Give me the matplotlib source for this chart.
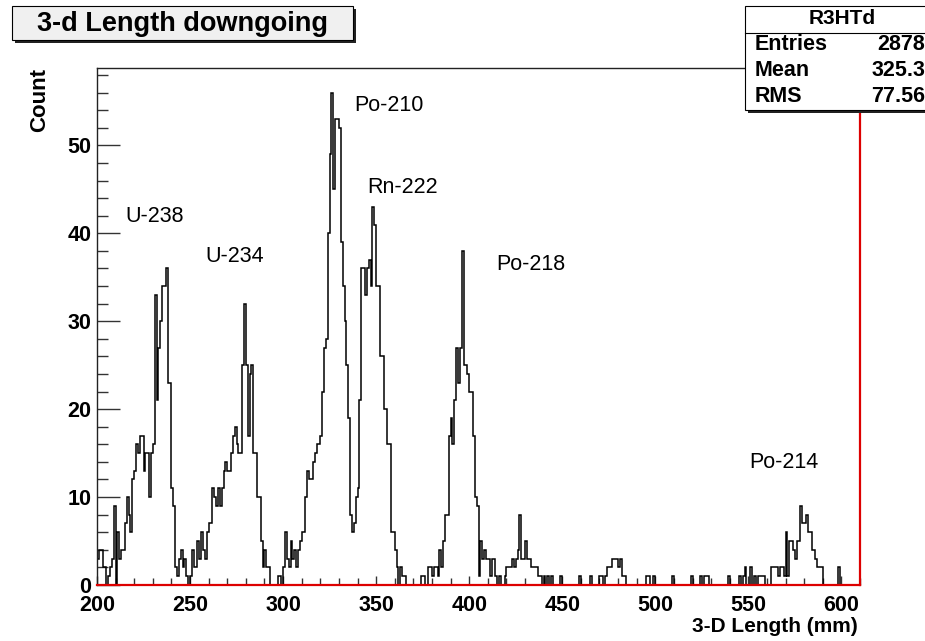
import numpy as np
import matplotlib
matplotlib.use("Agg")
import matplotlib.pyplot as plt
from matplotlib.patches import Rectangle
from matplotlib.ticker import MultipleLocator

# ---------------- data ----------------
x_min, x_max, bin_width = 200, 610, 1

counts_200 = [3, 4, 4, 2, 2, 0, 1, 2, 3, 9,
              0, 6, 3, 4, 4, 7, 10, 8, 6, 12,
              13, 16, 15, 17, 17, 13, 15, 15, 10, 15,
              16, 33, 21, 27, 30, 34, 34, 36, 23, 23,
              11, 9, 2, 1, 3, 4, 2, 3, 1, 0]
counts_250 = [1, 4, 2, 2, 5, 3, 6, 4, 3, 6,
              7, 7, 11, 10, 9, 11, 9, 11, 13, 14,
              13, 13, 15, 17, 18, 16, 15, 15, 25, 32,
              25, 17, 24, 25, 15, 15, 10, 10, 5, 2,
              4, 2, 2, 0, 0, 0, 0, 1, 1, 0]
counts_300 = [2, 6, 3, 2, 5, 3, 4, 2, 4, 5,
              6, 6, 10, 13, 12, 12, 14, 15, 16, 16,
              17, 22, 27, 28, 40, 49, 56, 45, 53, 53,
              52, 39, 34, 30, 25, 19, 8, 6, 7, 10,
              11, 21, 36, 36, 33, 36, 37, 34, 43, 41,
              34, 34, 26, 26, 20, 20, 16, 16, 6, 6,
              4, 2, 0, 2, 1, 1, 0, 0, 0, 0]
counts_370 = [0, 0, 0, 0, 1, 1, 0, 0, 2, 2,
              1, 2, 2, 1, 4, 2, 5, 8, 8, 17,
              19, 16, 21, 27, 23, 27, 38, 25, 25, 24,
              22, 22, 17, 10, 9, 1, 5, 3, 4, 3,
              3, 1, 3, 3, 1, 0, 1, 0, 0, 1,
              2, 2, 2, 3, 2, 3, 4, 8, 3, 3,
              5, 3, 3, 2, 2, 2, 2, 1, 1, 0]
counts_440 = [1, 0, 1, 0, 1, 0, 0, 0, 0, 1,
              0, 0, 0, 0, 0, 0, 0, 0, 0, 1,
              0, 0, 0, 0, 0, 1, 0, 0, 0, 0,
              1, 1, 0, 1, 2, 2, 2, 3, 3, 3,
              2, 3, 1, 1, 0, 0, 0, 0, 0, 0,
              0, 0, 0, 0, 0, 1, 1, 0, 0, 1,
              0, 0, 0, 0, 0, 0, 0, 0, 0, 1]
counts_510 = [0, 0, 0, 0, 0, 0, 0, 0, 0, 1,
              0, 0, 0, 0, 1, 0, 1, 1, 1, 0,
              0, 0, 0, 0, 0, 0, 0, 0, 0, 1,
              0, 0, 0, 0, 0, 1, 0, 1, 2, 0,
              0, 2, 0, 1, 0, 1, 1, 1, 1, 0,
              0, 0, 2, 2, 2, 2, 1, 2, 2, 1,
              6, 1, 5, 5, 4, 3, 5, 5, 9, 7,
              7, 8, 6, 6, 4, 4, 3, 2, 2, 2,
              0, 0, 0, 0, 0, 0, 0, 0, 2, 0,
              0, 0, 0, 0, 0, 0, 0, 0, 0, 0]

peak_labels = ["U-238", "U-234", "Po-210", "Rn-222", "Po-218", "Po-214"]
peak_label_x = [215.0, 258.0, 338.5, 345.0, 414.8, 550.6]
peak_label_y = [41.9, 37.4, 54.5, 45.2, 36.4, 13.9]

title = "3-d Length downgoing"
stats_name = "R3HTd"
stats_keys = ["Entries", "Mean", "RMS"]
stats_vals = ["2878", "325.3", "77.56"]
x_label = "3-D Length (mm)"
y_label = "Count"

counts = np.array(counts_200 + counts_250 + counts_300 + counts_370
                  + counts_440 + counts_510, dtype=float)
edges = np.arange(x_min, x_max + bin_width, bin_width)

# ---------------- figure ----------------
plt.rcParams['font.family'] = ['Liberation Sans', 'DejaVu Sans']
plt.rcParams['font.weight'] = 'bold'

W, H = 925, 641
fig = plt.figure(figsize=(W / 100, H / 100), dpi=100)
fig.patch.set_facecolor('white')

def fx(px):
    return px / W

def fy(py):
    return 1 - py / H

ax = fig.add_axes([fx(97), fy(585), (860 - 97) / W, (585 - 68) / H])
ax.stairs(counts, edges, color='black', lw=1.1, baseline=0, zorder=2)

ax.set_xlim(x_min, x_max)
ax.set_ylim(0, 58.8)

ax.xaxis.set_major_locator(MultipleLocator(50))
ax.xaxis.set_minor_locator(MultipleLocator(10))
ax.yaxis.set_major_locator(MultipleLocator(10))
ax.yaxis.set_minor_locator(MultipleLocator(2))

px2pt = 0.72
ax.tick_params(axis='y', which='major', direction='in', length=23 * px2pt,
               width=1.0, labelsize=15.5, pad=4, color='#333333')
ax.tick_params(axis='y', which='minor', direction='in', length=11.5 * px2pt,
               width=1.0, color='#333333')
ax.tick_params(axis='x', which='major', direction='in', length=9 * px2pt,
               width=1.0, labelsize=15.5, pad=7, color='#333333')
ax.tick_params(axis='x', which='minor', direction='in', length=7 * px2pt,
               width=1.0, color='#333333')

for side in ['left', 'top']:
    ax.spines[side].set_color('#222222')
    ax.spines[side].set_linewidth(1.0)
for side in ['bottom', 'right']:
    ax.spines[side].set_color('#dd0000')
    ax.spines[side].set_linewidth(1.6)
    ax.spines[side].set_zorder(5)

for lab, lx, ly in zip(peak_labels, peak_label_x, peak_label_y):
    ax.text(lx, ly, lab, fontsize=15.5, fontweight='normal', ha='left',
            va='center', color='black')

fig.text(fx(40), fy(68), y_label, rotation=90, ha='center', va='top',
         fontsize=16, fontweight='bold')
fig.text(fx(858), fy(627), x_label, ha='right', va='center',
         fontsize=15, fontweight='bold')

# title box
fig.add_artist(Rectangle((fx(15), fy(43)), (353 - 12) / W, 34 / H,
                         transform=fig.transFigure, facecolor='#222222',
                         edgecolor='none', zorder=3))
fig.add_artist(Rectangle((fx(12), fy(40)), (353 - 12) / W, 34 / H,
                         transform=fig.transFigure, facecolor='#f0f0f0',
                         edgecolor='black', lw=0.8, zorder=4))
fig.text(fx(37), fy(24), title, ha='left', va='center', fontsize=19.5,
         fontweight='bold', zorder=5)

# stats box
fig.add_artist(Rectangle((fx(748), fy(113)), (935 - 745) / W, (110 - 6) / H,
                         transform=fig.transFigure, facecolor='#222222',
                         edgecolor='none', zorder=3))
fig.add_artist(Rectangle((fx(745), fy(110)), (935 - 745) / W, (110 - 6) / H,
                         transform=fig.transFigure, facecolor='white',
                         edgecolor='black', lw=0.8, zorder=4))
fig.add_artist(plt.Line2D([fx(745), fx(935)], [fy(33), fy(33)],
                          transform=fig.transFigure, color='black', lw=0.8,
                          zorder=5))
fig.text(fx(842), fy(19), stats_name, ha='center', va='center', fontsize=15,
         fontweight='bold', zorder=6)
row_y = [45, 71, 96]
for key, val, ry in zip(stats_keys, stats_vals, row_y):
    fig.text(fx(755), fy(ry), key, ha='left', va='center', fontsize=15.5,
             fontweight='bold', zorder=6)
    fig.text(fx(925), fy(ry), val, ha='right', va='center', fontsize=15.5,
             fontweight='bold', zorder=6)

fig.savefig("out.png", dpi=100)
